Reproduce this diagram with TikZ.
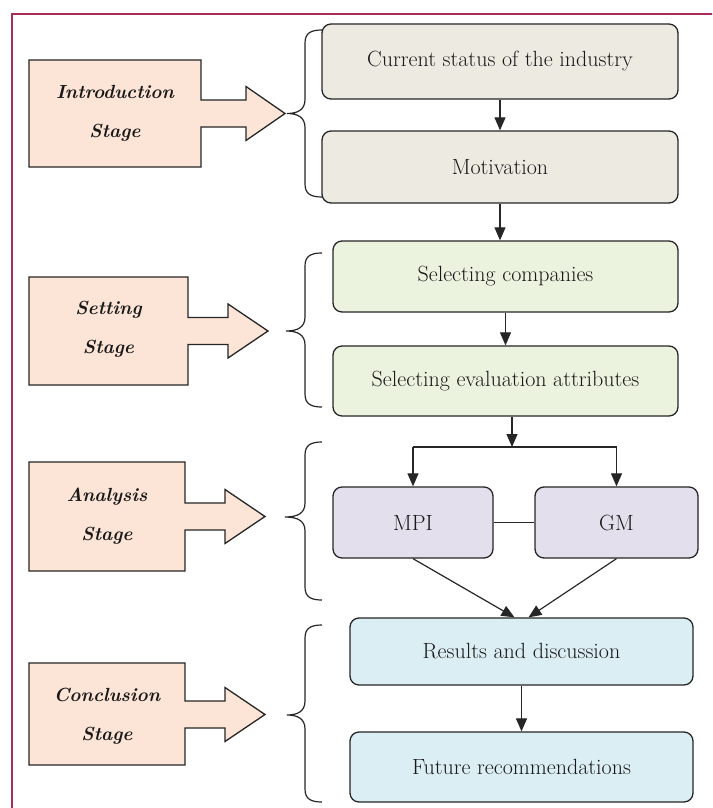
\documentclass[tikz,border=0pt]{standalone}
\usepackage{fontspec}
\setmainfont{Latin Modern Roman}
\usetikzlibrary{arrows.meta,calc}
\definecolor{framecol}{RGB}{168,45,85}
\definecolor{peach}{RGB}{252,228,214}
\definecolor{introc}{RGB}{236,234,225}
\definecolor{setc}{RGB}{235,242,222}
\definecolor{anac}{RGB}{228,223,236}
\definecolor{conc}{RGB}{219,238,244}
\tikzset{
  flowbox/.style={draw=black!85, line width=1.3pt, rounded corners=9pt, inner sep=0pt,
    font=\fontsize{22}{26}\selectfont, text=black!90},
  stageshape/.style={draw=black!85, line width=1.3pt, fill=peach, line join=miter},
  stagetext/.style={align=center, inner sep=0pt, font=\bfseries\itshape\fontsize{19}{39}\selectfont, text=black!90},
  bracestyle/.style={draw=black!85, line width=1.2pt},
  conn/.style={draw=black!85, line width=1.2pt},
  arr/.style={conn, -{Triangle[length=13pt,width=11pt]}}
}
% #1 box right, #2 box top, #3 box bottom, #4 head base x, #5 tip x, #6 tip y
\newcommand\stagearrow[6]{%
  \path[stageshape] (29,#2) -- (#1,#2) -- (#1,#6-13.5) -- (#4,#6-13.5) -- (#4,#6-27)
    -- (#5,#6) -- (#4,#6+27) -- (#4,#6+13.5) -- (#1,#6+13.5) -- (#1,#3) -- (29,#3) -- cycle;}
% #1 top, #2 middle, #3 bottom, #4 tip x
\newcommand\stagebrace[4]{%
  \draw[bracestyle] (322,#1) .. controls (311,#1) and (305,#1+3) .. (305,#1+13)
    -- (305,#2-14) .. controls (305,#2-4) and (298,#2) .. (#4,#2)
    .. controls (298,#2) and (305,#2+4) .. (305,#2+14)
    -- (305,#3-13) .. controls (305,#3-3) and (311,#3) .. (322,#3);}
\begin{document}
\begin{tikzpicture}[x=1pt,y=-1pt]
\useasboundingbox (0,0) rectangle (712,808);
\fill[white] (0,0) rectangle (712,808);
\begin{scope}
\clip (0,0) rectangle (712,808);
\draw[framecol, line width=1.6pt] (12,14) rectangle (760,860);
\end{scope}

% stage shapes
\stagearrow{201}{60}{167}{246}{285}{113.5}
\node[stagetext] (intro) at (115,113) {Introduction\\Stage};
\stagearrow{188}{277}{385}{228}{268}{331}
\node[stagetext] (setting) at (108.5,329) {Setting\\Stage};
\stagearrow{185}{462}{571}{225}{265}{516.5}
\node[stagetext] (analysis) at (107,516) {Analysis\\Stage};
\stagearrow{185}{663}{765}{225}{265}{714.5}
\node[stagetext] (conclusion) at (107,716) {Conclusion\\Stage};

% braces
\stagebrace{30}{113.5}{197}{287}
\stagebrace{253}{331}{407}{286}
\stagebrace{442}{517}{600}{285}
\stagebrace{625}{715}{802}{287}

% flow boxes
\node[flowbox, fill=introc, minimum width=356pt, minimum height=75pt] (cur) at (500,61.5) {Current status of the industry};
\node[flowbox, fill=introc, minimum width=356pt, minimum height=72pt] (mot) at (500,167) {Motivation};
\node[flowbox, fill=setc, minimum width=345pt, minimum height=71pt] (selc) at (505.5,276.5) {Selecting companies};
\node[flowbox, fill=setc, minimum width=345pt, minimum height=70pt] (sela) at (505.5,381) {Selecting evaluation attributes};
\node[flowbox, fill=anac, minimum width=160pt, minimum height=71pt] (mpi) at (413,522.5) {MPI};
\node[flowbox, fill=anac, minimum width=163pt, minimum height=71pt] (gm) at (616.5,522.5) {GM};
\node[flowbox, fill=conc, minimum width=343pt, minimum height=67pt] (res) at (521.5,651.5) {Results and discussion};
\node[flowbox, fill=conc, minimum width=343pt, minimum height=70pt] (fut) at (521.5,767) {Future recommendations};

% connectors
\draw[arr] (cur.south) -- (mot.north);
\draw[arr] (mot.south) -- (mot.south |- selc.north);
\draw[arr] (selc.south) -- (sela.north);
\coordinate (jn) at (512,447);
\coordinate (jl) at (413,447);
\coordinate (jr) at (616.5,447);
\draw[arr] (sela.south -| jn) -- (jn);
\draw[conn] (jl) -- (jr);
\draw[arr] (jl) -- (mpi.north);
\draw[arr] (jr) -- (gm.north);
\draw[conn] (mpi.east) -- (gm.west);
\draw[arr] (mpi.south) -- ($(res.north)+(-7,0)$);
\draw[arr] (gm.south) -- ($(res.north)+(7,0)$);
\draw[arr] (res.south) -- (fut.north);
\end{tikzpicture}
\end{document}
